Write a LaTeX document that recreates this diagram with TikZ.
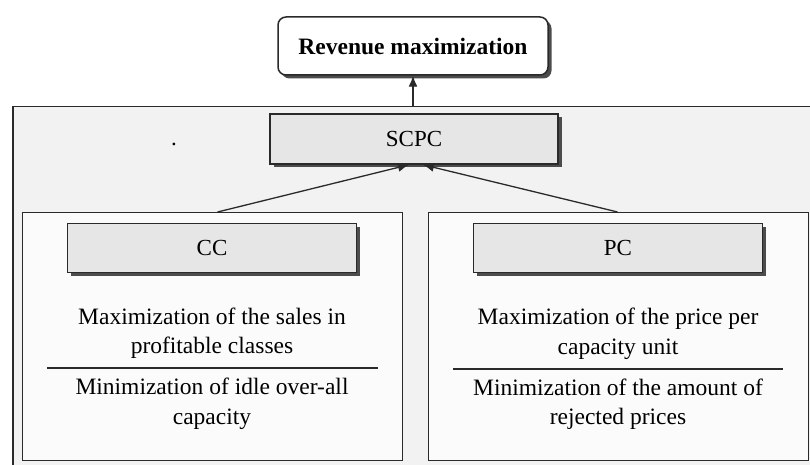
\documentclass[tikz,border=0pt]{standalone}
\usepackage{fontspec}
\setmainfont{Liberation Serif}
\usetikzlibrary{arrows.meta,shadows}

\definecolor{framefill}{HTML}{F2F2F2}
\definecolor{panelfill}{HTML}{FBFBFB}
\definecolor{boxfill}{HTML}{E6E6E6}
\definecolor{edge}{HTML}{2A2A2A}

\tikzset{
  goalbox/.style={draw=edge, line width=1.5pt, fill=boxfill, minimum height=50pt,
    font=\fontsize{23}{30}\selectfont, drop shadow={shadow xshift=3.5pt, shadow yshift=-3.5pt, fill=black!70, opacity=1}},
  panel/.style={draw=edge, line width=1.1pt, fill=panelfill, anchor=north west, inner sep=0pt},
  aimtext/.style={align=center, inner sep=0pt, font=\fontsize{23.5}{29.5}\selectfont},
  link/.style={draw=edge, line width=1.3pt, -{Latex[length=11pt,width=9pt,fill=edge]}}
}

\begin{document}
\begin{tikzpicture}[x=1pt, y=-1pt]
  \useasboundingbox (0,0) rectangle (810,465);
  \clip (0,0) rectangle (810,465);

  % outer frame around the three strategies
  \node[draw=edge, line width=1.5pt, fill=framefill, anchor=north west, inner sep=0pt,
        minimum width=830pt, minimum height=380pt] (frame) at (12,106) {};

  % the goal on top
  \node[goalbox, rounded corners=8pt, fill=white, minimum width=270pt, minimum height=58pt,
        font=\fontsize{23.5}{28}\selectfont\bfseries] (revenue) at (413,46) {Revenue maximization};
  \draw[link] (frame.north -| revenue.south) -- (revenue.south);

  % combined strategy
  \node[goalbox, minimum width=288pt] (scpc) at (414,139) {SCPC};
  \node[inner sep=0pt, font=\fontsize{23}{28}\selectfont] (stray) at (174,144) {.};

  % the two sub-strategies
  \node[panel, minimum width=380pt, minimum height=248pt] (ccpanel) at (22,212) {};
  \node[panel, minimum width=380pt, minimum height=248pt] (pcpanel) at (428,212) {};

  \node[goalbox, minimum width=289pt, minimum height=49pt] (cc) at (212,248) {CC};
  \node[goalbox, minimum width=289pt, minimum height=49pt] (pc) at (618,248) {PC};

  % aims of CC
  \node[aimtext] (ccmax) at (212,333) {Maximization of the sales in\\profitable classes};
  \draw[edge, line width=1.3pt] (47,368) -- (378,368);
  \node[aimtext] (ccmin) at (212,404) {Minimization of idle over-all\\capacity};

  % aims of PC
  \node[aimtext] (pcmax) at (618,334) {Maximization of the price per\\capacity unit};
  \draw[edge, line width=1.3pt] (453,369) -- (783,369);
  \node[aimtext] (pcmin) at (618,404) {Minimization of the amount of\\rejected prices};

  % both feed the combined strategy
  \draw[link] ([xshift=5pt]ccpanel.north) -- ([xshift=-5pt]scpc.south);
  \draw[link] ([xshift=-1pt]pcpanel.north) -- ([xshift=9pt]scpc.south);
\end{tikzpicture}
\end{document}
